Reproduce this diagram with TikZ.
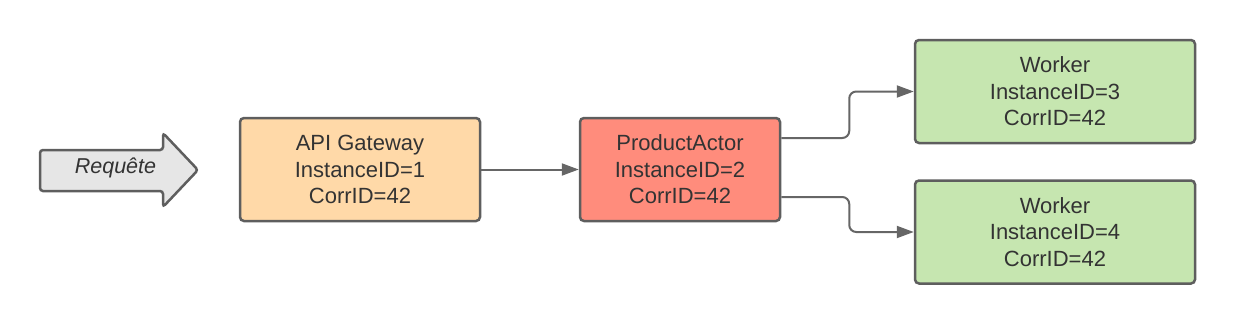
\documentclass[tikz,border=0pt]{standalone}
\usepackage{fontspec}
\setmainfont{Liberation Sans}
\usetikzlibrary{arrows.meta}
\definecolor{edge}{HTML}{5E5E5E}
\definecolor{conn}{HTML}{666666}
\definecolor{txt}{HTML}{333333}
\definecolor{apifill}{HTML}{FFD9A8}
\definecolor{pafill}{HTML}{FF8C7C}
\definecolor{wkfill}{HTML}{C6E6B0}
\definecolor{reqfill}{HTML}{E6E6E6}
\tikzset{
  box/.style={draw=edge, line width=2.5pt, rounded corners=4pt, align=center,
    text=txt, inner sep=0pt, font=\fontsize{22}{26.5}\selectfont},
  conn/.style={draw=conn, line width=2pt, rounded corners=7pt,
    -{Triangle[length=17pt,width=12pt]}},
}
\begin{document}
\begin{tikzpicture}[x=1pt,y=-1pt]
\useasboundingbox (0,0) rectangle (1235,324);
% Requete arrow
\draw[draw=edge, fill=reqfill, line width=2.5pt, rounded corners=3pt]
  (40,150) -- (163,150) -- (163,133) -- (198,170) -- (163,207) -- (163,191) -- (40,191) -- cycle;
\node[text=txt, font=\fontsize{21.5}{24}\selectfont\itshape] (req) at (115.5,168) {Requête};
% boxes
\node[box, fill=apifill, minimum width=240pt, minimum height=103pt] (api) at (360,169.5)
  {API Gateway\\InstanceID=1\\CorrID=42};
\node[box, fill=pafill, minimum width=200pt, minimum height=103pt] (pa) at (680,169.5)
  {ProductActor\\InstanceID=2\\CorrID=42};
\node[box, fill=wkfill, minimum width=280pt, minimum height=103pt] (w1) at (1055,91.5)
  {Worker\\InstanceID=3\\CorrID=42};
\node[box, fill=wkfill, minimum width=280pt, minimum height=103pt] (w2) at (1055,232)
  {Worker\\InstanceID=4\\CorrID=42};
% connectors
\draw[conn] (api.east) -- (pa.west);
\draw[conn] ([yshift=31.5pt]pa.east) -- ++(68,0) |- (w1.west);
\draw[conn] ([yshift=-27.5pt]pa.east) -- ++(68,0) |- (w2.west);
\end{tikzpicture}
\end{document}
